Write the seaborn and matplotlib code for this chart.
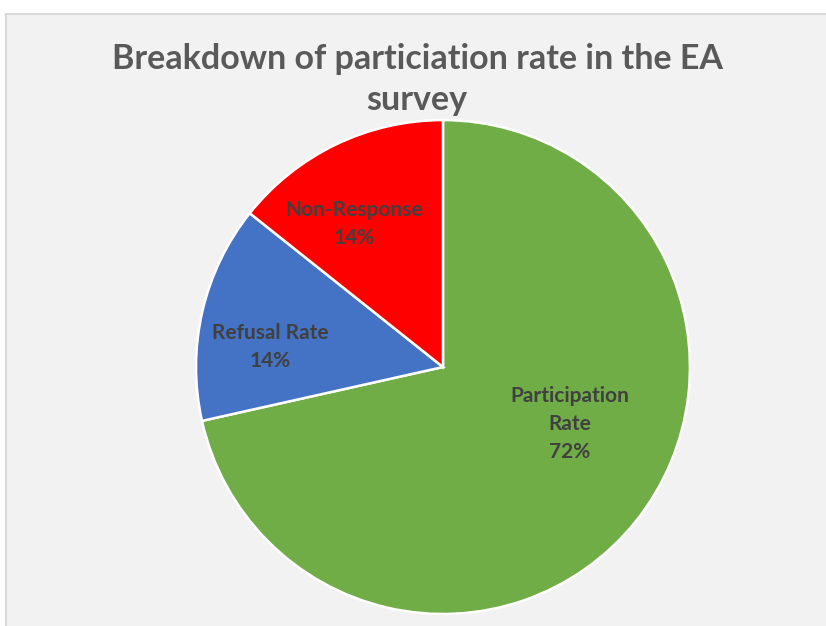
import matplotlib
matplotlib.use("Agg")
import matplotlib.pyplot as plt
import seaborn as sns
from matplotlib.patches import Rectangle

# data
categories = ["Participation Rate", "Refusal Rate", "Non-Response"]
shares = [71.5, 14.2, 14.3]
label_text = ["Participation\nRate", "Refusal Rate", "Non-Response"]
colors = ["#70AD47", "#4472C4", "#FF0000"]
title = "Breakdown of particiation rate in the EA\nsurvey"

sns.set_theme(style="white")
plt.rcParams["font.family"] = ["Lato", "DejaVu Sans"]

fig = plt.figure(figsize=(8.26, 6.26), dpi=100)
fig.patch.set_facecolor("white")

# chart area frame like the Excel chart box
frame = Rectangle((6 / 826, -0.01), 1.0, 1 - 14 / 626 + 0.01, transform=fig.transFigure,
                  facecolor="#F2F2F2", edgecolor="#D9D9D9", linewidth=1.5, zorder=-10)
fig.patches.append(frame)

ax = fig.add_axes([0.2373, 0.0192, 0.598, 0.789])
ax.set_facecolor("none")

pct_iter = iter(label_text)


def fmt(p):
    return f"{next(pct_iter)}\n{p:.0f}%"


wedges, texts, autotexts = ax.pie(
    shares, colors=colors, startangle=90, counterclock=False,
    autopct=fmt, pctdistance=0.69, radius=1,
    wedgeprops=dict(edgecolor="white", linewidth=1.8),
    textprops=dict(color="#404040", fontsize=15, fontweight="bold",
                   ha="center", va="center", linespacing=1.5),
)
# Excel-like label placement inside each slice
label_pos = [(0.514, -0.231), (-0.70, 0.081), (-0.36, 0.579)]
for t, pos in zip(autotexts, label_pos):
    t.set_position(pos)
    t.set_fontweight("bold")
ax.set_xlim(-1, 1)
ax.set_ylim(-1, 1)
ax.set_aspect("equal")
ax.axis("off")

fig.text(0.505, 0.873, title, ha="center", va="center", fontsize=24.5,
         fontweight="bold", color="#595959", linespacing=1.38)

fig.savefig("out.png", dpi=100)
